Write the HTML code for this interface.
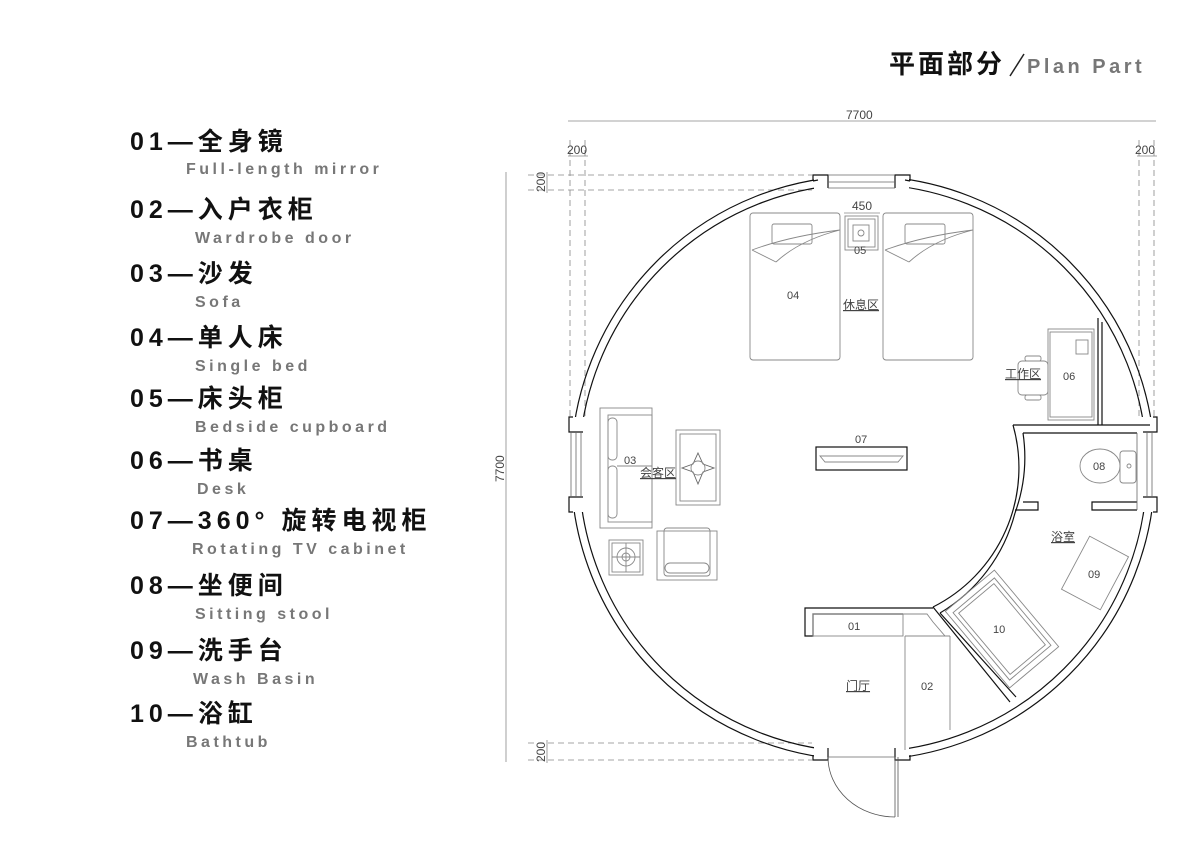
<!DOCTYPE html>
<html><head><meta charset="utf-8"><style>
html,body{margin:0;padding:0;background:#fff;}
svg{display:block;}
.cn{font-family:"Liberation Sans","Noto Sans CJK SC",sans-serif;font-weight:bold;font-size:25px;fill:#111;letter-spacing:5px;}
.en{font-family:"Liberation Sans",sans-serif;font-weight:bold;font-size:16px;fill:#777;letter-spacing:3.5px;}
.sm{font-family:"Liberation Sans","Noto Sans CJK SC",sans-serif;font-size:11px;fill:#444;}
</style></head><body>
<svg width="1191" height="842" viewBox="0 0 1191 842" xmlns="http://www.w3.org/2000/svg">
<!-- title -->
<text x="889" y="73" class="cn" style="font-size:26px;letter-spacing:3px">平面部分</text>
<line x1="1010" y1="76" x2="1024" y2="54" stroke="#222" stroke-width="1.5"/>
<text x="1027" y="73" class="en" style="font-size:20px;fill:#777;letter-spacing:3.5px">Plan Part</text>

<!-- legend -->
<g>
<text x="130" y="150" class="cn">01—全身镜</text><text x="186" y="174" class="en">Full-length mirror</text>
<text x="130" y="218" class="cn">02—入户衣柜</text><text x="195" y="243" class="en">Wardrobe door</text>
<text x="130" y="282" class="cn">03—沙发</text><text x="195" y="307" class="en">Sofa</text>
<text x="130" y="346" class="cn">04—单人床</text><text x="195" y="371" class="en">Single bed</text>
<text x="130" y="407" class="cn">05—床头柜</text><text x="195" y="432" class="en">Bedside cupboard</text>
<text x="130" y="469" class="cn">06—书桌</text><text x="197" y="494" class="en">Desk</text>
<text x="130" y="529" class="cn">07—360° 旋转电视柜</text><text x="192" y="554" class="en">Rotating TV cabinet</text>
<text x="130" y="594" class="cn">08—坐便间</text><text x="195" y="619" class="en">Sitting stool</text>
<text x="130" y="659" class="cn">09—洗手台</text><text x="193" y="684" class="en">Wash Basin</text>
<text x="130" y="722" class="cn">10—浴缸</text><text x="186" y="747" class="en">Bathtub</text>
</g>

<!-- dimensions -->
<g stroke="#888" stroke-width="0.8" fill="none">
<line x1="568" y1="121" x2="1156" y2="121"/>
<line x1="506" y1="172" x2="506" y2="762"/>
<g stroke-dasharray="6,4">
<line x1="570" y1="140" x2="570" y2="420"/><line x1="585" y1="140" x2="585" y2="420"/>
<line x1="1139" y1="140" x2="1139" y2="420"/><line x1="1154" y1="140" x2="1154" y2="420"/>
<line x1="528" y1="175" x2="812" y2="175"/><line x1="528" y1="190" x2="812" y2="190"/>
<line x1="528" y1="743" x2="812" y2="743"/><line x1="528" y1="760" x2="812" y2="760"/>
</g>
<line x1="568" y1="156" x2="588" y2="156"/><line x1="1137" y1="156" x2="1157" y2="156"/>
<line x1="547" y1="172" x2="547" y2="193"/><line x1="547" y1="740" x2="547" y2="763"/>
<line x1="844" y1="213" x2="880" y2="213"/>
</g>
<g class="sm" style="font-size:12px">
<text x="846" y="119">7700</text>
<text x="567" y="154">200</text><text x="1135" y="154">200</text>
<text x="852" y="210">450</text>
<text transform="translate(545,192) rotate(-90)">200</text>
<text transform="translate(545,762) rotate(-90)">200</text>
<text transform="translate(504,482) rotate(-90)">7700</text>
</g>

<!-- walls -->
<g stroke="#111" stroke-width="1.2" fill="none">
<circle cx="863" cy="468" r="292"/>
<circle cx="863" cy="468" r="284"/>
</g>
<g fill="#fff">
<rect x="814" y="168" width="95" height="28"/>
<rect x="564" y="417" width="28" height="95"/>
<rect x="1136" y="417" width="28" height="95"/>
<rect x="814" y="740" width="95" height="28"/>
</g>
<g stroke="#111" stroke-width="1.2" fill="none">
<polyline points="813,181 813,175 828,175 828,188"/>
<polyline points="910,181 910,175 895,175 895,188"/>
<line x1="813" y1="181" x2="818" y2="180"/><line x1="905" y1="180" x2="910" y2="181"/>
<line x1="828" y1="175" x2="895" y2="175" stroke="#666" stroke-width="0.8"/>
<line x1="828" y1="182" x2="895" y2="182" stroke="#666" stroke-width="0.8"/>
<line x1="828" y1="188" x2="895" y2="188" stroke="#666" stroke-width="0.8"/>
<polyline points="573,417 569,417 569,432 583,432"/>
<polyline points="573,512 569,512 569,497 583,497"/>
<line x1="571" y1="432" x2="571" y2="497" stroke="#666" stroke-width="0.8"/>
<line x1="576" y1="432" x2="576" y2="497" stroke="#666" stroke-width="0.8"/>
<line x1="581" y1="432" x2="581" y2="497" stroke="#666" stroke-width="0.8"/>
<polyline points="1153,417 1157,417 1157,432 1143,432"/>
<polyline points="1153,512 1157,512 1157,497 1143,497"/>
<line x1="1152" y1="432" x2="1152" y2="497" stroke="#666" stroke-width="0.8"/>
<line x1="1147" y1="432" x2="1147" y2="497" stroke="#666" stroke-width="0.8"/>
<polyline points="813,755 813,760 828,760 828,748"/>
<polyline points="910,755 910,760 895,760 895,748"/>
<line x1="828" y1="757" x2="895" y2="757" stroke="#666" stroke-width="0.8"/>
<line x1="895" y1="757" x2="895" y2="817" stroke="#555" stroke-width="0.8"/>
<line x1="898" y1="757" x2="898" y2="817" stroke="#555" stroke-width="0.8"/>
<path d="M828,757 A67,60 0 0 0 895,817" stroke="#555" stroke-width="0.8"/>

<line x1="1013" y1="425" x2="1150" y2="425"/>
<line x1="1023" y1="433" x2="1137" y2="433"/>
<path d="M1013,425 A156,156 0 0 1 933,607"/>
<path d="M1023,433 A164,164 0 0 1 1015,513"/>
<line x1="1098" y1="318" x2="1098" y2="425"/>
<line x1="1102" y1="322" x2="1102" y2="425"/>
<polyline points="1023,502 1038,502 1038,510 1015,510"/>
<polyline points="1137,502 1092,502 1092,510 1137,510"/>
<line x1="1137" y1="433" x2="1137" y2="510" stroke="#666" stroke-width="0.8"/>
<path d="M1015,513 A164,164 0 0 1 940,613"/>
<line x1="933" y1="607" x2="1010" y2="702"/>
<line x1="940" y1="613" x2="1016" y2="697"/>
<polyline points="933,608 805,608 805,636 813,636 813,614 903,614"/>
</g>

<!-- furniture -->
<g stroke="#888" stroke-width="0.9" fill="none">
<rect x="750" y="213" width="90" height="147" rx="3"/>
<rect x="883" y="213" width="90" height="147" rx="3"/>
<rect x="772" y="224" width="40" height="20" rx="2"/>
<rect x="905" y="224" width="40" height="20" rx="2"/>
<path d="M752,250 Q790,236 840,230 M752,250 L776,262 M776,262 Q800,240 840,230"/>
<path d="M885,250 Q923,236 973,230 M885,250 L909,262 M909,262 Q933,240 973,230"/>
<rect x="845" y="216" width="33" height="34"/>
<rect x="848" y="219" width="27" height="28"/>
<rect x="853" y="225" width="16" height="16"/>
<circle cx="861" cy="233" r="3"/>
<rect x="1048" y="329" width="46" height="91"/>
<rect x="1050" y="332" width="42" height="85"/>
<rect x="1076" y="340" width="12" height="14"/>
<rect x="1018" y="361" width="30" height="34" rx="4"/>
<rect x="1025" y="356" width="16" height="5" rx="2"/>
<rect x="1025" y="395" width="16" height="5" rx="2"/>
<rect x="816" y="447" width="91" height="23" stroke="#111" stroke-width="1.2"/>
<path d="M820,456 L903,456 L898,462 L825,462 Z"/>
<rect x="600" y="408" width="52" height="120"/>
<rect x="608" y="415" width="44" height="107"/>
<rect x="608" y="418" width="9" height="42" rx="4"/>
<rect x="608" y="466" width="9" height="52" rx="4"/>
<line x1="617" y1="466" x2="652" y2="466"/>
<rect x="676" y="430" width="44" height="75"/>
<rect x="680" y="434" width="36" height="67"/>
<path d="M698,453 L703,464 L714,468 L703,472 L698,484 L693,472 L682,468 L693,464 Z" stroke="#666"/>
<circle cx="698" cy="468" r="7"/>
<rect x="609" y="540" width="34" height="35"/>
<rect x="612" y="543" width="28" height="29"/>
<circle cx="626" cy="557" r="9"/><circle cx="626" cy="557" r="4"/>
<line x1="612" y1="557" x2="640" y2="557"/><line x1="626" y1="543" x2="626" y2="572"/>
<rect x="657" y="531" width="60" height="49"/>
<rect x="664" y="528" width="46" height="48" rx="3"/>
<rect x="665" y="563" width="44" height="10" rx="5"/>
<ellipse cx="1100" cy="466" rx="20" ry="17"/>
<rect x="1120" y="451" width="16" height="32" rx="3"/>
<circle cx="1129" cy="466" r="2"/>
<g transform="translate(1095,573) rotate(28)"><rect x="-22" y="-30" width="44" height="60"/></g>
<g transform="translate(1002,629) rotate(-40)">
<rect x="-32" y="-50" width="64" height="100"/>
<rect x="-27" y="-44" width="54" height="88"/>
<rect x="-23" y="-40" width="46" height="80"/>
</g>
<rect x="813" y="614" width="90" height="22"/>
<polyline points="903,614 927,614 933,622 945,636 905,636"/>
<line x1="905" y1="636" x2="905" y2="750"/>
<line x1="950" y1="636" x2="950" y2="730"/>
<line x1="905" y1="636" x2="950" y2="636"/>
</g>

<g class="sm">
<text x="787" y="299">04</text>
<text x="854" y="254">05</text>
<text x="1063" y="380">06</text>
<text x="855" y="443">07</text>
<text x="624" y="464">03</text>
<text x="1093" y="470">08</text>
<text x="1088" y="578">09</text>
<text x="993" y="633">10</text>
<text x="848" y="630">01</text>
<text x="921" y="690">02</text>
</g>
<g class="sm" style="font-size:12px;text-decoration:underline">
<text x="843" y="309">休息区</text>
<text x="1005" y="378">工作区</text>
<text x="640" y="477">会客区</text>
<text x="1051" y="541">浴室</text>
<text x="846" y="690">门厅</text>
</g>
</svg>
</body></html>
